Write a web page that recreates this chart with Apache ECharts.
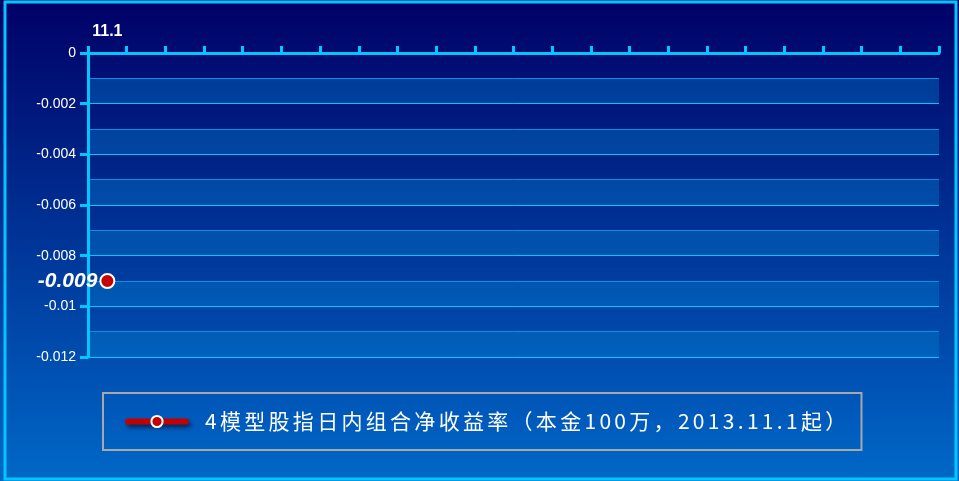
<!DOCTYPE html>
<html>
<head>
<meta charset="utf-8">
<script src="https://cdn.jsdelivr.net/npm/echarts@6/dist/echarts.min.js"></script>
<style>
html,body{margin:0;padding:0;background:#fff;}
#main{width:959px;height:481px;}
</style>
</head>
<body>
<div id="main"></div>
<script>
// 日期类目（只有第一天有数据）
var dates = ['11.1','','','','','','','','','','','','','','','','','','','','',''];
var netRate = [-0.009,'-','-','-','-','-','-','-','-','-','-','-','-','-','-','-','-','-','-','-','-','-'];
var seriesName = '4模型股指日内组合净收益率（本金100万，2013.11.1起）';
var yMin = -0.012, yMax = 0;

var chart = echarts.init(document.getElementById('main'));
var option = {
    backgroundColor: {
        type: 'linear', x: 0, y: 0, x2: 0, y2: 1,
        colorStops: [{offset: 0, color: '#000066'}, {offset: 1, color: '#0068c8'}]
    },
    animation: false,
    graphic: [{
        type: 'rect',
        shape: {x: 5, y: 2, width: 951, height: 477},
        style: {fill: 'none', stroke: '#00c8ff', lineWidth: 3},
        z: 100
    }],
    grid: {
        left: 88,
        right: 20,
        top: 53,
        bottom: 124
    },
    legend: {
        left: 103,
        top: 393,
        padding: [18, 12, 18, 22],
        borderColor: '#a8a8a8',
        borderWidth: 2,
        itemWidth: 58,
        itemHeight: 14,
        lineStyle: {color: '#c40000', width: 6, cap: 'round', shadowColor: 'rgba(0,0,30,0.6)', shadowBlur: 4, shadowOffsetX: 2, shadowOffsetY: 3},
        formatter: function (name) {
            // 逐字加间距，接近原图的等宽字体
            return name.split('').map(function (c) { return '{c|' + c + '}'; }).join('');
        },
        textStyle: {
            color: '#fff',
            fontSize: 21,
            fontFamily: 'Noto Sans CJK SC',
            padding: [0, 0, 0, 14],
            rich: {
                c: {color: '#fff', fontSize: 21, fontFamily: 'Noto Sans CJK SC', padding: [0, 3.3, 0, 0], lineHeight: 26}
            }
        },
        data: [seriesName]
    },
    xAxis: {
        type: 'category',
        position: 'top',
        data: dates,
        boundaryGap: true,
        axisLine: {lineStyle: {color: '#00c8ff', width: 3}},
        axisTick: {show: true, interval: 0, length: 7, lineStyle: {color: '#00c8ff', width: 3}},
        axisLabel: {
            interval: 0,
            color: '#fff',
            fontSize: 16,
            fontWeight: 'bold',
            fontFamily: 'Liberation Sans',
            margin: 13
        },
        splitLine: {show: false}
    },
    yAxis: [{
        // 细分 0.001 的分隔线与色带
        type: 'value',
        min: yMin,
        max: yMax,
        interval: 0.001,
        axisLine: {show: false},
        axisTick: {show: false},
        axisLabel: {show: false},
        splitLine: {lineStyle: {color: '#0a90e0', width: 1}},
        splitArea: {show: true, areaStyle: {color: ['rgba(0,125,205,0.4)', 'rgba(0,0,0,0)']}}
    }, {
        type: 'value',
        position: 'left',
        min: yMin,
        max: yMax,
        interval: 0.002,
        axisLine: {show: true, lineStyle: {color: '#00c8ff', width: 3}},
        axisTick: {show: true, length: 8, lineStyle: {color: '#00c8ff', width: 3}},
        axisLabel: {color: '#fff', fontSize: 14, fontFamily: 'Liberation Sans', margin: 12},
        splitLine: {lineStyle: {color: '#00c8ff', width: 1}}
    }],
    series: [{
        name: seriesName,
        type: 'line',
        yAxisIndex: 0,
        data: netRate,
        symbol: 'circle',
        symbolSize: 14,
        itemStyle: {color: '#c40000', borderColor: '#fff', borderWidth: 2},
        lineStyle: {color: '#c40000', width: 5},
        label: {
            show: true,
            position: 'left',
            distance: 2,
            color: '#fff',
            fontSize: 21,
            fontWeight: 'bold',
            fontStyle: 'italic',
            fontFamily: 'Liberation Sans'
        }
    }]
};
chart.setOption(option);
</script>
</body>
</html>
